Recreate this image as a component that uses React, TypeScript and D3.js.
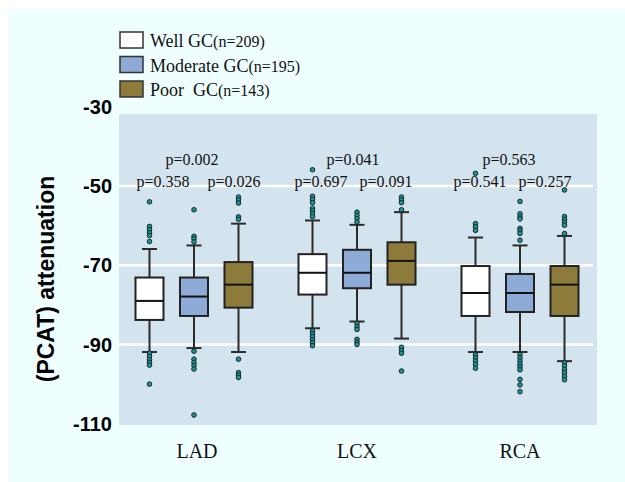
import React from 'react';
import * as d3 from 'd3';

const categories = ['LAD', 'LCX', 'RCA'];
const groups = ['Well', 'Moderate', 'Poor'];
const legendNames = ['Well GC', 'Moderate GC', 'Poor  GC'];
const legendCounts = ['(n=209)', '(n=195)', '(n=143)'];
const yTicks = [-30, -50, -70, -90, -110];
const gridValues = [-50, -70, -90];

// [category][group]
const whiskerHigh = [[-65.9, -65.0, -59.5], [-58.7, -59.8, -56.6], [-63.0, -65.0, -62.6]];
const q3 = [[-73.1, -73.1, -69.2], [-67.2, -66.1, -64.2], [-70.2, -72.2, -70.2]];
const median = [[-79.0, -77.9, -74.9], [-71.9, -71.9, -68.9], [-77.0, -77.0, -74.9]];
const q1 = [[-83.8, -82.8, -80.7], [-77.4, -75.8, -74.9], [-82.8, -81.8, -82.8]];
const whiskerLow = [[-91.9, -90.9, -91.9], [-85.9, -84.2, -88.5], [-91.9, -91.9, -94.2]];
const outliers = [
  [
    [-54, -60.2, -61, -61.8, -62.5, -64, -92.2, -93, -93.8, -94.5, -95.2, -100],
    [-56, -62.7, -63.3, -64.1, -91.7, -93.7, -94.5, -95.3, -96.2, -107.8],
    [-52.8, -53.5, -54.3, -57.8, -58.4, -93.7, -97.1, -97.7, -98.3],
  ],
  [
    [-45.9, -52.6, -53.4, -54.2, -55.6, -56.3, -57, -57.7, -86.6, -87.3, -88, -88.8, -89.5, -90.3],
    [-56.6, -57.4, -58.2, -59.1, -84.7, -85.5, -86.2, -88.7, -89.4, -90],
    [-52.8, -53.5, -54.2, -56, -90.7, -91.5, -92.2, -96.7],
  ],
  [
    [-46.8, -59.5, -60.3, -61.2, -92.6, -93.4, -94.2, -95, -96],
    [-53.9, -57, -57.7, -58.3, -60.7, -61.3, -62, -63.7, -92.6, -93.4, -94.2, -95, -95.7, -96.4, -98.8, -100.2, -101.9],
    [-51, -57.7, -58.4, -59.1, -59.9, -62, -94.6, -95.4, -96.3, -97.1, -98, -98.9],
  ],
];
// p-values per category: [Well vs Moderate, Moderate vs Poor, Well vs Poor]
const pValues = [
  ['p=0.358', 'p=0.026', 'p=0.002'],
  ['p=0.697', 'p=0.091', 'p=0.041'],
  ['p=0.541', 'p=0.257', 'p=0.563'],
];

const fills = ['#ffffff', '#8eaad6', '#8c7b3a'];
// label x offsets from category centre (left, right, top)
const pOffsets = [[-31, 40, -2], [-36, 29, -4], [-40, 25, -11]];

const W = 625;
const H = 482;
const plot = { left: 119, right: 597, top: 114, bottom: 425 };

export default function App() {
  const y = d3.scaleLinear().domain([-50, -90]).range([186, 344.5]);
  const x = d3.scaleBand().domain(categories).range([112.5, 601.5]);
  const xg = d3.scalePoint().domain(groups).range([-44.5, 44.5]);
  const boxW = 28;
  const capW = 15;
  const serif = '"Liberation Serif", "Times New Roman", serif';
  const sans = '"Liberation Sans", Arial, sans-serif';

  return (
    <svg width={W} height={H} style={{ position: 'absolute', left: 0, top: 0, background: '#ffffff' }}>
      <rect x={8} y={9} width={W - 8} height={H - 9} fill="#efffff" />
      <rect x={plot.left} y={plot.top} width={plot.right - plot.left} height={plot.bottom - plot.top} fill="#d4e4ef" />
      {gridValues.map(v => (
        <line key={v} x1={plot.left} x2={plot.right - 4} y1={y(v)} y2={y(v)} stroke="#ffffff" strokeWidth={2.5} />
      ))}
      {yTicks.map(v => (
        <text key={v} x={112} y={y(v)} dy="0.36em" textAnchor="end" fontFamily={sans} fontWeight="bold" fontSize={20} fill="#000">
          {v}
        </text>
      ))}
      <text
        transform={`translate(54,279) rotate(-90)`}
        textAnchor="middle"
        fontFamily={sans}
        fontWeight="bold"
        fontSize={23}
        fill="#000"
      >
        (PCAT) attenuation
      </text>

      {categories.map((c, ci) => {
        const cx = (x(c) ?? 0) + x.bandwidth() / 2;
        return (
          <g key={c}>
            {groups.map((g, gi) => {
              const gx = cx + (xg(g) ?? 0);
              return (
                <g key={g}>
                  <line x1={gx} x2={gx} y1={y(whiskerHigh[ci][gi])} y2={y(q3[ci][gi])} stroke="#2b2b2b" strokeWidth={2} />
                  <line x1={gx} x2={gx} y1={y(q1[ci][gi])} y2={y(whiskerLow[ci][gi])} stroke="#2b2b2b" strokeWidth={2} />
                  <line x1={gx - capW / 2} x2={gx + capW / 2} y1={y(whiskerHigh[ci][gi])} y2={y(whiskerHigh[ci][gi])} stroke="#2b2b2b" strokeWidth={2} />
                  <line x1={gx - capW / 2} x2={gx + capW / 2} y1={y(whiskerLow[ci][gi])} y2={y(whiskerLow[ci][gi])} stroke="#2b2b2b" strokeWidth={2} />
                  <rect
                    x={gx - boxW / 2}
                    y={y(q3[ci][gi])}
                    width={boxW}
                    height={y(q1[ci][gi]) - y(q3[ci][gi])}
                    fill={fills[gi]}
                    stroke="#222"
                    strokeWidth={2}
                  />
                  <line x1={gx - boxW / 2} x2={gx + boxW / 2} y1={y(median[ci][gi])} y2={y(median[ci][gi])} stroke="#111" strokeWidth={2} />
                  {outliers[ci][gi].map((v, i) => (
                    <circle key={i} cx={gx} cy={y(v)} r={2.3} fill="#1a9696" stroke="#162626" strokeWidth={1} />
                  ))}
                </g>
              );
            })}
            <text x={cx + pOffsets[ci][0]} y={187} textAnchor="middle" fontFamily={serif} fontSize={16} fill="#111">{pValues[ci][0]}</text>
            <text x={cx + pOffsets[ci][1]} y={187} textAnchor="middle" fontFamily={serif} fontSize={16} fill="#111">{pValues[ci][1]}</text>
            <text x={cx + pOffsets[ci][2]} y={165} textAnchor="middle" fontFamily={serif} fontSize={16} fill="#111">{pValues[ci][2]}</text>
            <text x={cx + (ci === 0 ? 3 : 0)} y={458} textAnchor="middle" fontFamily={serif} fontSize={20} fill="#111">{c}</text>
          </g>
        );
      })}

      {groups.map((g, gi) => (
        <g key={g} transform={`translate(120,${32 + gi * 24.5})`}>
          <rect x={0} y={0} width={23} height={16} fill={fills[gi]} stroke="#333" strokeWidth={1.5} />
          <text x={30} y={15} fontFamily={serif} fontSize={18} fill="#111" style={{ whiteSpace: 'pre' }}>
            {legendNames[gi]}
            <tspan fontSize={16}>{legendCounts[gi]}</tspan>
          </text>
        </g>
      ))}
    </svg>
  );
}
